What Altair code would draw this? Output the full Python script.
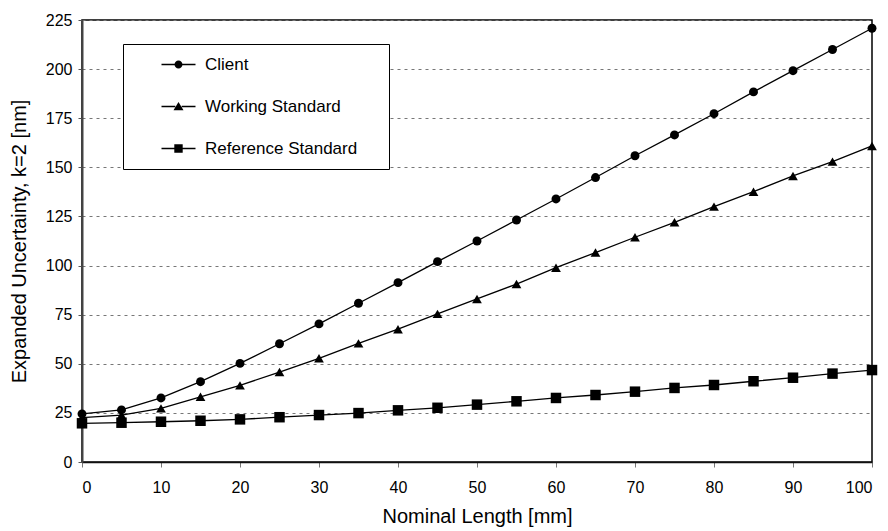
import altair as alt
import pandas as pd

lengths = [0, 5, 10, 15, 20, 25, 30, 35, 40, 45, 50, 55, 60, 65, 70, 75, 80, 85, 90, 95, 100]
client = [24.5, 26.5, 32.6, 40.9, 50.2, 60.2, 70.3, 80.8, 91.3, 102.0, 112.5,
          123.2, 133.9, 144.8, 155.9, 166.5, 177.3, 188.4, 199.2, 210.0, 220.8]
working = [22.6, 23.9, 27.3, 33.2, 39.0, 45.8, 52.8, 60.4, 67.6, 75.4, 83.0,
           90.6, 98.9, 106.6, 114.4, 122.0, 130.0, 137.6, 145.6, 152.9, 160.9]
reference = [19.7, 20.0, 20.5, 21.0, 21.7, 22.8, 23.9, 24.9, 26.3, 27.6, 29.2,
             30.9, 32.6, 34.1, 35.8, 37.7, 39.2, 41.1, 42.9, 45.0, 46.8]
series_names = ["Client", "Working Standard", "Reference Standard"]
y_ticks = [0, 25, 50, 75, 100, 125, 150, 175, 200, 225]
x_ticks = [0, 10, 20, 30, 40, 50, 60, 70, 80, 90, 100]

rows = []
for name, vals in zip(series_names, [client, working, reference]):
    for L, v in zip(lengths, vals):
        rows.append({"length": L, "value": v, "series": name})
df = pd.DataFrame(rows)

FONT = "Liberation Sans"

# legend symbols: a line with the marker in the middle
legend_paths = [
    "M-4.25,-0.19H-0.9V0.19H-4.25Z M0.9,-0.19H4.25V0.19H0.9Z M1,0A1,1,0,1,1,-1,0A1,1,0,1,1,1,0Z",
    "M-4.25,-0.19H-0.8V0.19H-4.25Z M0.8,-0.19H4.25V0.19H0.8Z M0,-1.15L1.25,0.95L-1.25,0.95Z",
    "M-4.25,-0.19H-1.05V0.19H-4.25Z M1.05,-0.19H4.25V0.19H1.05Z M-1.05,-1.05H1.05V1.05H-1.05Z",
]

x_enc = alt.X("length:Q", scale=alt.Scale(domain=[0, 100], nice=False),
              axis=alt.Axis(values=x_ticks, title="Nominal Length [mm]", grid=False,
                            tickSize=5, tickColor="#777", labelPadding=12, titlePadding=11,
                            domainColor="#111", domainWidth=1.5,
                            labelFont=FONT, labelFontSize=16, labelColor="black",
                            titleFont=FONT, titleFontSize=20, titleFontWeight="normal",
                            titleColor="black"))
y_enc = alt.Y("value:Q", scale=alt.Scale(domain=[0, 225], nice=False),
              axis=alt.Axis(values=y_ticks, title="Expanded Uncertainty, k=2 [nm]",
                            grid=True, gridDash=[3, 4], gridColor="#777", gridWidth=1,
                            tickSize=4, tickColor="#555", labelPadding=6, titlePadding=16,
                            domainColor="#444", domainWidth=2,
                            labelFont=FONT, labelFontSize=16, labelColor="black",
                            titleFont=FONT, titleFontSize=20, titleFontWeight="normal",
                            titleColor="black"))

base = alt.Chart(df)

lines = base.mark_line(color="black", strokeWidth=1.3).encode(
    x=x_enc, y=y_enc, detail="series:N")

points = base.mark_point(filled=True, color="black", opacity=1).encode(
    x="length:Q", y="value:Q",
    shape=alt.Shape("series:N", scale=alt.Scale(domain=series_names,
                                                range=["circle", "triangle-up", "square"]),
                    legend=None),
    size=alt.Size("series:N", scale=alt.Scale(domain=series_names, range=[80, 110, 85]),
                  legend=None),
)

legend_layer = base.mark_point(filled=True, color="black", opacity=0, size=64).encode(
    x="length:Q", y="value:Q",
    shape=alt.Shape("series:N", scale=alt.Scale(domain=series_names, range=legend_paths),
                    legend=alt.Legend(title=None, orient="none", legendX=41, legendY=24,
                                      fillColor="white", strokeColor="black", padding=12,
                                      symbolOpacity=1, symbolSize=64, symbolFillColor="black",
                                      symbolOffset=35, labelOffset=18, rowPadding=24,
                                      labelLimit=400,
                                      labelExpr="datum.label + '\u00a0\u00a0\u00a0\u00a0\u200b'",
                                      labelFont=FONT, labelFontSize=17, labelColor="black")),
)

chart = alt.layer(lines, points, legend_layer).resolve_scale(
    shape="independent", size="independent"
).properties(
    width=790, height=442,
    background="white",
    autosize=alt.AutoSizeParams(type="none"),
    padding={"left": 74, "top": 12, "right": 6, "bottom": 69},
).configure_view(
    stroke="black", strokeWidth=1.5
)

chart.save("out.html", embed_options={"renderer": "svg", "actions": False})
